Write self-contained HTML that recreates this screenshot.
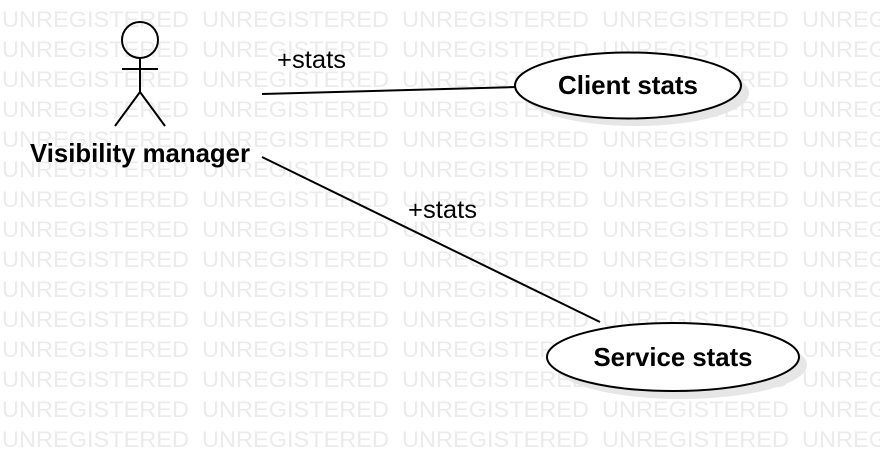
<!DOCTYPE html>
<html><head><meta charset="utf-8"><style>
html,body{margin:0;padding:0;background:#fff;}
svg{display:block;}
</style></head><body>
<svg width="880" height="472" xmlns="http://www.w3.org/2000/svg">
<g id="wm" font-family="Liberation Sans, sans-serif" font-size="19.5" fill="#ebebeb"></g>
<g fill="#e6e6e6">
<ellipse cx="636" cy="93" rx="113" ry="33"/>
<ellipse cx="681" cy="365" rx="126" ry="34"/>
</g>
<g stroke="#000" stroke-width="2" fill="none">
<circle cx="140" cy="40" r="18"/>
<line x1="140" y1="58" x2="140" y2="92"/>
<line x1="122" y1="69" x2="158" y2="69"/>
<line x1="140" y1="92" x2="115" y2="126"/>
<line x1="140" y1="92" x2="165" y2="126"/>
<line x1="262" y1="94" x2="516" y2="87"/>
<line x1="262" y1="157" x2="600" y2="322"/>
<ellipse cx="628" cy="85.5" rx="113" ry="33" fill="#fff"/>
<ellipse cx="673" cy="357" rx="126" ry="34" fill="#fff"/>
</g>
<g font-family="Liberation Sans, sans-serif" fill="#000">
<text x="140" y="162" font-size="26" font-weight="bold" text-anchor="middle" textLength="220" lengthAdjust="spacingAndGlyphs">Visibility manager</text>
<text x="628" y="94" font-size="26" font-weight="bold" text-anchor="middle" textLength="140" lengthAdjust="spacingAndGlyphs">Client stats</text>
<text x="673" y="366" font-size="26" font-weight="bold" text-anchor="middle" textLength="159" lengthAdjust="spacingAndGlyphs">Service stats</text>
<text x="277" y="68" font-size="25" textLength="69" lengthAdjust="spacingAndGlyphs">+stats</text>
<text x="408" y="218" font-size="25" textLength="69" lengthAdjust="spacingAndGlyphs">+stats</text>
</g>
</svg>
<script>
(function(){
var g=document.getElementById('wm');var ns='http://www.w3.org/2000/svg';
for(var r=0;r<15;r++){for(var c=0;c<5;c++){var t=document.createElementNS(ns,'text');
t.setAttribute('x',2+c*200);t.setAttribute('y',27+r*30);t.setAttribute('font-size','22');t.setAttribute('textLength','187');
t.setAttribute('lengthAdjust','spacingAndGlyphs');t.textContent='UNREGISTERED';g.appendChild(t);}}
})();
</script>
</body></html>
